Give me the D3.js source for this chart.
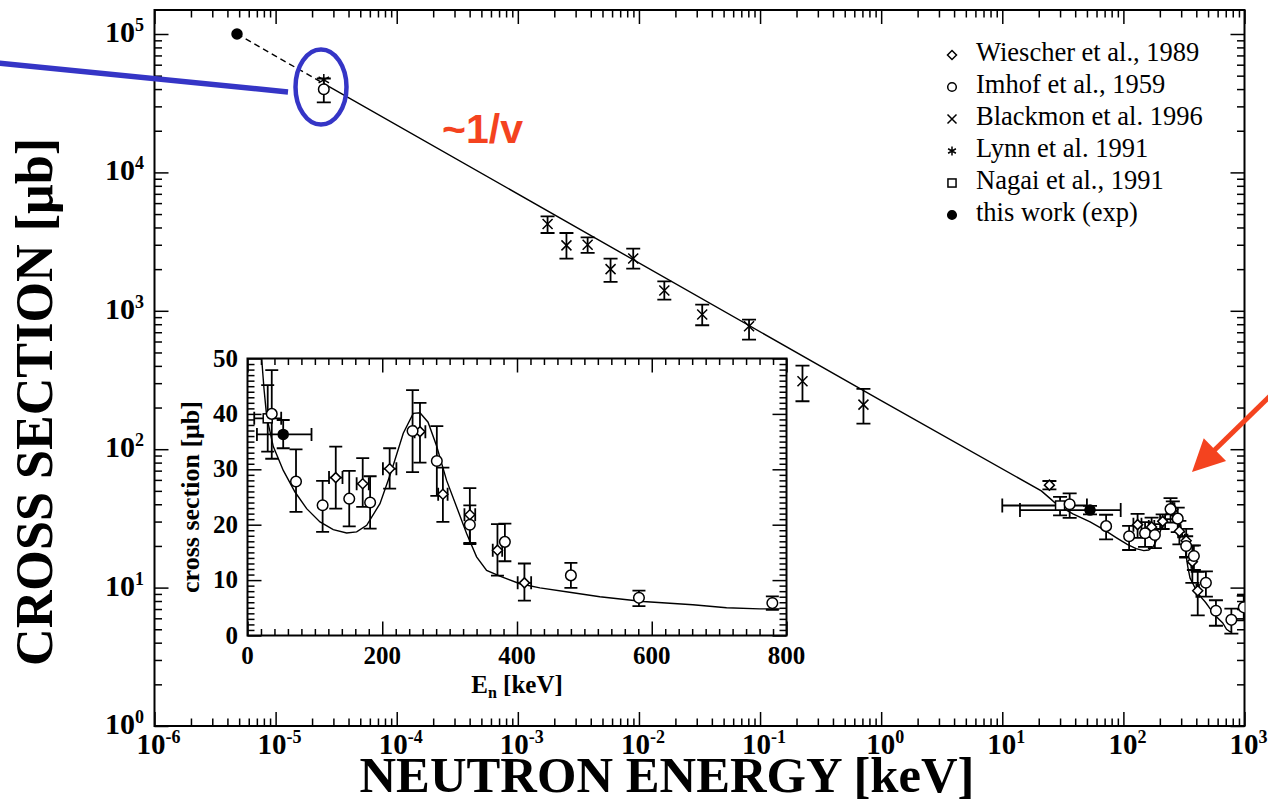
<!DOCTYPE html>
<html><head><meta charset="utf-8">
<script src="https://cdn.jsdelivr.net/npm/d3@7"></script>
<style>body{margin:0;background:#fff}svg{display:block}</style>
</head><body>
<svg id="c" width="1268" height="803"></svg>
<script>
// ---------- DATA ----------
// rows: [E (keV), sigma (µb), sigma low, sigma high, E low, E high]
const wiescher = [
  [24.5, 55, 51.3, 58.9],
  [131, 28.5, 22.9, 34.1, 121, 141],
  [171, 27.4, 23.2, 32.0, 162, 180],
  [211, 30.1, 26.5, 33.8, 201, 221],
  [256, 36.8, 31.2, 42.0, 248, 264],
  [290, 25.5, 20.5, 30.3, 283, 297],
  [330, 21.8, 16.7, 26.6, 322, 338],
  [371, 15.4, 10.8, 20.1, 364, 378],
  [411, 9.5, 6.3, 13.0, 401, 421]
];
const imhof = [
  [2.5e-5, 39900, 32100, 47700],
  [36, 40.0, 31.9, 47.9],
  [72, 27.8, 22.3, 33.6],
  [111.5, 23.5, 18.7, 27.9],
  [151, 24.7, 19.7, 29.7],
  [182, 24.0, 19.3, 28.75],
  [245, 36.9, 29.5, 44.3],
  [281, 31.5, 25.2, 37.8],
  [330, 20.0, 16.5, 23.5],
  [382, 16.9, 13.4, 20.2],
  [480, 10.85, 8.6, 13.1],
  [581, 6.8, 5.3, 8.1],
  [779, 5.85, 4.65, 7.05],
  [986, 7.2, 5.8, 8.7]
];
const blackmon = [
  [1.76e-3, 4240, 3650, 4810],
  [2.52e-3, 2970, 2380, 3650],
  [3.77e-3, 3000, 2620, 3390],
  [5.83e-3, 2000, 1620, 2380],
  [8.97e-3, 2390, 2020, 2810],
  [1.62e-2, 1400, 1205, 1630],
  [3.33e-2, 940, 786, 1110],
  [8.11e-2, 773, 620, 864],
  [0.224, 310, 222, 402],
  [0.714, 210, 153, 273]
];
const lynn = [[2.5e-5, 46600]];
const nagai = [[30, 39.2, 33.2, 45.2, 10, 50]];
const thisWork = [
  [4.8e-6, 1.0e5],
  [53, 36.3, 33.8, 38.9, 14, 95]
];
// fitted curve [E keV, sigma µb]
const fitDashed = [[4.8e-6, 1.0e5], [2.5e-5, 43800]];
const fitSolid = [
  [2.5e-5, 43800], [1.0, 224], [21, 50], [24.5, 44.5], [28.5, 39.5], [38.3, 34.1],
  [53.1, 29.8], [70.5, 25.9], [87.8, 22.9], [107.6, 20.5], [127.3, 19.1],
  [147.2, 18.5], [162, 18.7], [176.9, 19.9], [196.6, 23.8], [213.9, 29.8],
  [231.2, 36.5], [246, 40.1], [256, 40.2], [268, 38.5], [280.7, 34.2],
  [295.5, 28.0], [310.4, 23.2], [325.2, 18.4], [340, 14.2], [354.9, 11.75],
  [374.6, 10.7], [404.3, 9.35], [434, 8.6], [478, 7.8], [523, 7.0],
  [587, 6.15], [661, 5.55], [711, 5.0], [760, 4.8], [790, 4.8]
];
const legendNames = ["Wiescher et al., 1989", "Imhof et al., 1959", "Blackmon et al. 1996",
                     "Lynn et al. 1991", "Nagai et al., 1991", "this work (exp)"];
const legendSymbols = ["diamond", "circle", "cross", "star", "square", "dot"];
const xMajor = [1e-6,1e-5,1e-4,1e-3,1e-2,1e-1,1e0,1e1,1e2,1e3];
const yMajor = [1e0,1e1,1e2,1e3,1e4,1e5];
const insetXTicks = [0,200,400,600,800];
const insetYTicks = [0,10,20,30,40,50];

// ---------- SETUP ----------
const SERIF = "'Liberation Serif','Times New Roman',Times,serif";
const svg = d3.select("#c");
svg.append("rect").attr("width",1268).attr("height",803).attr("fill","#fff");

const F = {l:154.5, r:1244.5, t:10, b:726};
const x = d3.scaleLog().domain([1e-6,1e3]).range([F.l,F.r]);
const y = d3.scaleLog().domain([1, Math.pow(10, 5+24/138.4)]).range([F.b,F.t]);

const defs = svg.append("defs");
defs.append("clipPath").attr("id","mainClip").append("rect")
  .attr("x",F.l).attr("y",F.t).attr("width",F.r-F.l).attr("height",F.b-F.t);

function minors(lo, hi){ const a=[]; for(let d=lo; d<hi; d++) for(let k=2;k<=9;k++) a.push(k*Math.pow(10,d)); return a; }
const xMinor = minors(-6,3);
const yMinor = minors(0,5);

function styleAxis(g){ g.select(".domain").remove(); g.selectAll("line").attr("stroke","#000").attr("stroke-width",1.5); }

// main ticks (inward on all sides)
[[d3.axisBottom, `translate(0,${F.b})`, x], [d3.axisTop, `translate(0,${F.t})`, x]].forEach(([ax,tr,s])=>{
  svg.append("g").attr("transform",tr).call(ax(s).tickValues(xMajor).tickSize(-14).tickFormat("")).call(styleAxis);
  svg.append("g").attr("transform",tr).call(ax(s).tickValues(xMinor).tickSize(-7.5).tickFormat("")).call(styleAxis);
});
[[d3.axisLeft, `translate(${F.l},0)`], [d3.axisRight, `translate(${F.r},0)`]].forEach(([ax,tr])=>{
  svg.append("g").attr("transform",tr).call(ax(y).tickValues(yMajor).tickSize(-14).tickFormat("")).call(styleAxis);
  svg.append("g").attr("transform",tr).call(ax(y).tickValues(yMinor).tickSize(-7.5).tickFormat("")).call(styleAxis);
});
svg.append("rect").attr("x",F.l).attr("y",F.t).attr("width",F.r-F.l).attr("height",F.b-F.t)
  .attr("fill","none").attr("stroke","#000").attr("stroke-width",2);

// tick labels
const yl = svg.append("g").selectAll("text").data(yMajor).join("text")
  .attr("x",144).attr("y",d=>y(d)+8).attr("text-anchor","end")
  .attr("font-family",SERIF).attr("font-weight","bold").attr("font-size",30);
yl.append("tspan").text("10");
yl.append("tspan").attr("dy",-11).attr("font-size",18).text(d=>Math.round(Math.log10(d)));
const xl = svg.append("g").selectAll("text").data(xMajor).join("text")
  .attr("x",d=>x(d)+4).attr("y",754).attr("text-anchor","middle")
  .attr("font-family",SERIF).attr("font-weight","bold").attr("font-size",29);
xl.append("tspan").text("10");
xl.append("tspan").attr("dy",-11).attr("font-size",18).text(d=>Math.round(Math.log10(d)));

// axis titles
svg.append("text").attr("x",667).attr("y",792).attr("text-anchor","middle")
  .attr("font-family",SERIF).attr("font-weight","bold").attr("font-size",50)
  .attr("textLength",615).attr("lengthAdjust","spacingAndGlyphs")
  .text("NEUTRON ENERGY [keV]");
svg.append("text").attr("transform","translate(52,402) rotate(-90)").attr("text-anchor","middle")
  .attr("font-family",SERIF).attr("font-weight","bold").attr("font-size",52)
  .attr("textLength",528).attr("lengthAdjust","spacingAndGlyphs")
  .text("CROSS SECTION [μb]");

// ---------- helpers ----------
function marker(g, type, cx, cy, s){
  const st = {stroke:"#000","stroke-width":1.5};
  let el;
  switch(type){
    case "circle": el = g.append("circle").attr("cx",cx).attr("cy",cy).attr("r",s).attr("fill","#fff"); break;
    case "dot": el = g.append("circle").attr("cx",cx).attr("cy",cy).attr("r",s).attr("fill","#000"); break;
    case "diamond": el = g.append("path").attr("d",`M${cx},${cy-s}L${cx+s},${cy}L${cx},${cy+s}L${cx-s},${cy}Z`).attr("fill","#fff"); break;
    case "square": el = g.append("rect").attr("x",cx-s*0.9).attr("y",cy-s*0.9).attr("width",s*1.8).attr("height",s*1.8).attr("fill","#fff"); break;
    case "cross": el = g.append("path").attr("d",`M${cx-s},${cy-s}L${cx+s},${cy+s}M${cx-s},${cy+s}L${cx+s},${cy-s}`).attr("fill","none"); break;
    case "star": { const a=s*0.87, b=s*0.5;
      el = g.append("path").attr("d",`M${cx},${cy-s}L${cx},${cy+s}M${cx-a},${cy-b}L${cx+a},${cy+b}M${cx-a},${cy+b}L${cx+a},${cy-b}`).attr("fill","none"); break; }
  }
  for(const k in st) el.attr(k, st[k]);
}
function errBars(g, data, sx, sy, cap){
  data.forEach(d=>{
    const px = sx(d[0]), py = sy(d[1]);
    if(d[2]!=null && d[3]!=null){
      const y1 = sy(d[2]), y2 = sy(d[3]);
      g.append("path").attr("d",`M${px},${y1}L${px},${y2}M${px-cap},${y1}L${px+cap},${y1}M${px-cap},${y2}L${px+cap},${y2}`)
        .attr("stroke","#000").attr("stroke-width",1.8).attr("fill","none");
    }
    if(d[4]!=null && d[5]!=null){
      const x1 = sx(d[4]), x2 = sx(d[5]);
      g.append("path").attr("d",`M${x1},${py}L${x2},${py}M${x1},${py-cap}L${x1},${py+cap}M${x2},${py-cap}L${x2},${py+cap}`)
        .attr("stroke","#000").attr("stroke-width",1.8).attr("fill","none");
    }
  });
}
const seriesList = [
  [blackmon,"cross",5],[lynn,"star",6],[nagai,"square",5],[wiescher,"diamond",5],[imhof,"circle",5.3],[thisWork,"dot",5]
];
function drawData(g, sx, sy, cap){
  seriesList.forEach(([data])=>errBars(g, data, sx, sy, cap));
  seriesList.forEach(([data,type,s])=>data.forEach(d=>marker(g,type,sx(d[0]),sy(d[1]),s)));
}

// ---------- MAIN PLOT ----------
const gm = svg.append("g").attr("clip-path","url(#mainClip)");
const lineMain = d3.line().x(d=>x(d[0])).y(d=>y(d[1]));
gm.append("path").datum(fitDashed).attr("d",lineMain).attr("fill","none").attr("stroke","#000")
  .attr("stroke-width",1.4).attr("stroke-dasharray","6,4");
gm.append("path").datum(fitSolid).attr("d",lineMain).attr("fill","none").attr("stroke","#000").attr("stroke-width",1.4);
drawData(gm, x, y, 7);

// ---------- LEGEND ----------
const lg = svg.append("g");
legendNames.forEach((n,i)=>{
  marker(lg, legendSymbols[i], 952, 55+32*i, legendSymbols[i]==="circle"||legendSymbols[i]==="dot"?4.3:4.5);
  lg.append("text").attr("x",976).attr("y",61+32*i).attr("font-family",SERIF).attr("font-size",26.5).text(n);
});

// ---------- INSET ----------
const I = {l:247.5, r:786.5, t:358.5, b:635.5};
const xi = d3.scaleLinear().domain([0,800]).range([I.l,I.r]);
const yi = d3.scaleLinear().domain([0,50]).range([I.b,I.t]);
defs.append("clipPath").attr("id","insetClip").append("rect")
  .attr("x",I.l).attr("y",I.t).attr("width",I.r-I.l).attr("height",I.b-I.t);
svg.append("rect").attr("x",I.l).attr("y",I.t).attr("width",I.r-I.l).attr("height",I.b-I.t).attr("fill","#fff");

const ixMinor = d3.range(0,801,20).filter(v=>v%200!==0);
const iyMinor = d3.range(0,51,1).filter(v=>v%10!==0);
[[d3.axisBottom,`translate(0,${I.b})`],[d3.axisTop,`translate(0,${I.t})`]].forEach(([ax,tr])=>{
  svg.append("g").attr("transform",tr).call(ax(xi).tickValues(insetXTicks).tickSize(-14).tickFormat("")).call(styleAxis);
  svg.append("g").attr("transform",tr).call(ax(xi).tickValues(ixMinor).tickSize(-6.5).tickFormat("")).call(styleAxis);
});
[[d3.axisLeft,`translate(${I.l},0)`],[d3.axisRight,`translate(${I.r},0)`]].forEach(([ax,tr])=>{
  svg.append("g").attr("transform",tr).call(ax(yi).tickValues(insetYTicks).tickSize(-14).tickFormat("")).call(styleAxis);
  svg.append("g").attr("transform",tr).call(ax(yi).tickValues(iyMinor).tickSize(-7).tickFormat("")).call(styleAxis);
});
svg.append("rect").attr("x",I.l).attr("y",I.t).attr("width",I.r-I.l).attr("height",I.b-I.t)
  .attr("fill","none").attr("stroke","#000").attr("stroke-width",2);

svg.append("g").selectAll("text").data(insetXTicks).join("text")
  .attr("x",d=>xi(d)).attr("y",664).attr("text-anchor","middle")
  .attr("font-family",SERIF).attr("font-weight","bold").attr("font-size",25).text(d=>d);
svg.append("g").selectAll("text").data(insetYTicks).join("text")
  .attr("x",238).attr("y",d=>yi(d)+8).attr("text-anchor","end")
  .attr("font-family",SERIF).attr("font-weight","bold").attr("font-size",25).text(d=>d);
const en = svg.append("text").attr("x",517).attr("y",693).attr("text-anchor","middle")
  .attr("font-family",SERIF).attr("font-weight","bold").attr("font-size",25);
en.append("tspan").text("E");
en.append("tspan").attr("dy",5).attr("font-size",16).text("n");
en.append("tspan").attr("dy",-5).text(" [keV]");
svg.append("text").attr("transform","translate(199,497) rotate(-90)").attr("text-anchor","middle")
  .attr("font-family",SERIF).attr("font-weight","bold").attr("font-size",26)
  .text("cross section [μb]");

const gi = svg.append("g").attr("clip-path","url(#insetClip)");
const lineInset = d3.line().x(d=>xi(d[0])).y(d=>yi(d[1]));
gi.append("path").datum(fitSolid).attr("d",lineInset).attr("fill","none").attr("stroke","#000").attr("stroke-width",1.4);
drawData(gi, xi, yi, 6.5);

// ---------- ANNOTATIONS ----------
const BLUE = "#3535c6", RED = "#f4431f";
svg.append("line").attr("x1",-2).attr("y1",63).attr("x2",288).attr("y2",92)
  .attr("stroke",BLUE).attr("stroke-width",5.5);
svg.append("ellipse").attr("cx",321).attr("cy",87).attr("rx",25.5).attr("ry",37.5)
  .attr("fill","none").attr("stroke",BLUE).attr("stroke-width",4.5);
svg.append("text").attr("x",442).attr("y",143).attr("font-family","'Liberation Sans',Arial,sans-serif")
  .attr("font-weight","bold").attr("font-size",41).attr("fill",RED).text("~1/v");
(function(){
  const tip=[1192,472], start=[1272,394];
  const dx=tip[0]-start[0], dy=tip[1]-start[1], L=Math.hypot(dx,dy), ux=dx/L, uy=dy/L;
  const len=32, hw=16, bx=tip[0]-ux*len, by=tip[1]-uy*len;
  svg.append("line").attr("x1",start[0]).attr("y1",start[1]).attr("x2",bx+ux*4).attr("y2",by+uy*4)
    .attr("stroke",RED).attr("stroke-width",5);
  svg.append("path").attr("d",`M${tip[0]},${tip[1]}L${bx-uy*hw},${by+ux*hw}L${bx+uy*hw},${by-ux*hw}Z`).attr("fill",RED);
})();
</script>
</body></html>
